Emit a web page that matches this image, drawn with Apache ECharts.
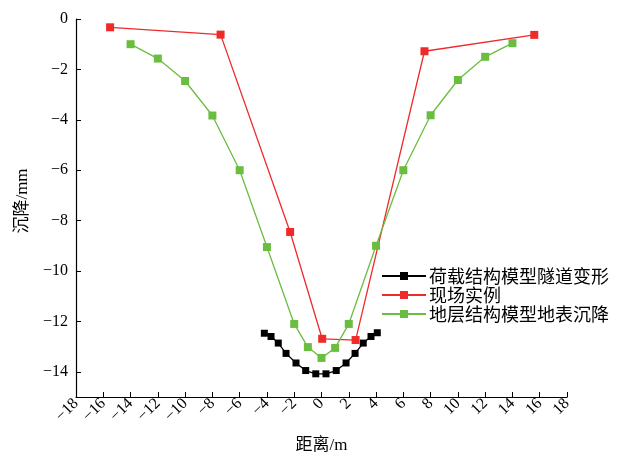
<!DOCTYPE html>
<html><head><meta charset="utf-8">
<script src="https://cdn.jsdelivr.net/npm/echarts@6/dist/echarts.min.js"></script>
<style>html,body{margin:0;padding:0;background:#fff}#c{width:628px;height:459px}</style>
</head><body><div id="c"></div>
<script>
var seriesNames = ['荷载结构模型隧道变形', '现场实例', '地层结构模型地表沉降'];
var tunnelX = [-4.19, -3.7, -3.17, -2.6, -1.87, -1.16, -0.42, 0.33, 1.08, 1.8, 2.46, 3.06, 3.63, 4.09];
var tunnelY = [-12.47, -12.6, -12.86, -13.27, -13.65, -13.95, -14.08, -14.08, -13.95, -13.65, -13.27, -12.86, -12.6, -12.45];
var fieldX = [-15.5, -7.4, -2.3, 0.05, 2.5, 7.55, 15.6];
var fieldY = [-0.33, -0.62, -8.45, -12.69, -12.74, -1.28, -0.63];
var strataX = [-14, -12, -10, -8, -6, -4, -2, -1, 0, 1, 2, 4, 6, 8, 10, 12, 14];
var strataY = [-1.0, -1.57, -2.46, -3.83, -6.0, -9.05, -12.1, -13.02, -13.45, -13.05, -12.1, -9.0, -6.0, -3.82, -2.42, -1.5, -0.96];
var yTicks = [0, -2, -4, -6, -8, -10, -12, -14];

function pairs(xs, ys){ return xs.map(function(x,i){ return [x, ys[i]]; }); }
function minus(v){ return String(v).replace('-', '\u2212'); }

var chart = echarts.init(document.getElementById('c'), null, {renderer:'canvas'});
var fontNum = 'Liberation Serif, Times New Roman, serif';
var fontCJK = 'Liberation Serif, Noto Sans CJK SC, serif';
chart.setOption({
  animation: false,
  backgroundColor: '#fff',
  grid: {left: 76, right: 61, top: 19, bottom: 61},
  legend: {
    orient: 'vertical', left: 376, top: 261, itemGap: -1,
    itemWidth: 44, itemHeight: 10,
    textStyle: {fontFamily: 'Noto Sans CJK SC', fontSize: 18, lineHeight: 20, color: '#000', padding:[0,0,0,-2]},
    data: seriesNames
  },
  xAxis: {
    type: 'value', min: -18, max: 18, interval: 2,
    name: '距离/m', nameLocation: 'middle', nameGap: 40,
    nameTextStyle: {fontFamily: fontCJK, fontSize: 17, color: '#000'},
    splitLine: {show: false},
    axisLine: {onZero: false, lineStyle: {color: '#000', width: 1.2}},
    axisTick: {inside: true, length: 5, lineStyle: {color: '#000'}},
    axisLabel: {rotate: 45, fontFamily: fontNum, fontSize: 16, color: '#000', margin: 4, formatter: minus}
  },
  yAxis: {
    type: 'value', min: -15, max: 0,
    name: '沉降/mm', nameLocation: 'middle', nameGap: 45, nameRotate: 90,
    nameTextStyle: {fontFamily: fontCJK, fontSize: 17, color: '#000', padding: [0, 0, 0, 14]},
    splitLine: {show: false},
    axisLine: {show: true, onZero: false, lineStyle: {color: '#000', width: 1.2}},
    axisTick: {show: true, inside: true, length: 5, customValues: yTicks, lineStyle: {color: '#000'}},
    axisLabel: {fontFamily: fontNum, fontSize: 16, color: '#000', margin: 8, customValues: yTicks, formatter: minus}
  },
  series: [
    {name: seriesNames[0], type: 'line', data: pairs(tunnelX, tunnelY), symbol: 'rect', symbolSize: 7,
     itemStyle: {color: '#000'}, lineStyle: {color: '#000', width: 1.3}},
    {name: seriesNames[1], type: 'line', data: pairs(fieldX, fieldY), symbol: 'rect', symbolSize: 8,
     itemStyle: {color: '#ee2a2a'}, lineStyle: {color: '#ee2a2a', width: 1.3}},
    {name: seriesNames[2], type: 'line', data: pairs(strataX, strataY), symbol: 'rect', symbolSize: 8,
     itemStyle: {color: '#6bbd3f'}, lineStyle: {color: '#6bbd3f', width: 1.3}}
  ]
});
</script></body></html>
